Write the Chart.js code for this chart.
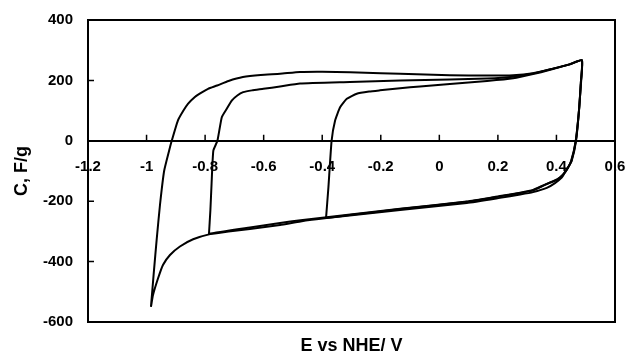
<!DOCTYPE html>
<html>
<head>
<meta charset="utf-8">
<script src="https://cdn.jsdelivr.net/npm/chart.js@4"></script>
<style>
  html, body { margin: 0; padding: 0; background: #fff; }
  canvas { display: block; }
</style>
</head>
<body>
<canvas id="c" width="627" height="357"></canvas>
<script>
// ---- Data ----
const xTickLabels = ['-1.2', '-1', '-0.8', '-0.6', '-0.4', '-0.2', '0', '0.2', '0.4', '0.6'];
const yTickLabels = ['-600', '-400', '-200', '0', '200', '400'];
const xTitle = 'E vs NHE/ V';
const yTitle = 'C, F/g';

// Loop 1: window about -0.99 .. 0.49 V
const loop1E = [-0.985, -0.975, -0.965, -0.954, -0.940, -0.923, -0.914, -0.893, -0.874, -0.858, -0.835, -0.817, -0.790, -0.759, -0.720, -0.671, -0.610, -0.544, -0.476, -0.400, -0.305, -0.200, -0.134, 0.036, 0.163, 0.252, 0.320, 0.388, 0.447, 0.487,
  0.484, 0.478, 0.467, 0.452, 0.440, 0.429, 0.418, 0.395, 0.367, 0.320, 0.276, 0.207, 0.094, -0.134, -0.385, -0.474, -0.544, -0.647, -0.720, -0.783, -0.841, -0.886, -0.920, -0.944, -0.961, -0.978, -0.985];
const loop1C = [-550, -433, -322, -211, -100, -33, 0, 67, 100, 123, 145, 157, 172, 183, 198, 211, 218, 222, 228, 229, 227, 224, 222, 217, 216, 217, 224, 239, 253, 267,
  200, 111, 0, -67, -88, -105, -122, -140, -156, -170, -178, -189, -206, -229, -256, -267, -279, -292, -300, -309, -326, -350, -378, -411, -456, -511, -550];

// Loop 2: window about -0.79 .. 0.49 V
const loop2E = [-0.787, -0.782, -0.778, -0.772, -0.758, -0.743, -0.726, -0.709, -0.690, -0.670, -0.640, -0.601, -0.544, -0.476, -0.305, -0.134, 0.036, 0.163, 0.252, 0.320, 0.388, 0.447, 0.487,
  0.483, 0.476, 0.466, 0.450, 0.436, 0.420, 0.400, 0.380, 0.361, 0.320, 0.276, 0.207, 0.094, -0.134, -0.385, -0.474, -0.544, -0.647, -0.787, -0.787];
const loop2C = [-311, -230, -144, -33, 0, 78, 106, 133, 150, 161, 167, 172, 180, 190, 195, 200, 203, 206, 212, 223, 239, 254, 267,
  180, 90, 0, -67, -95, -115, -130, -138, -145, -163, -172, -183, -201, -225, -253, -263, -272, -287, -308, -311];

// Loop 3: window about -0.39 .. 0.49 V
const loop3E = [-0.387, -0.379, -0.368, -0.356, -0.339, -0.316, -0.282, -0.240, -0.203, -0.134, -0.066, 0.036, 0.163, 0.252, 0.320, 0.388, 0.447, 0.487,
  0.483, 0.477, 0.466, 0.451, 0.437, 0.422, 0.402, 0.380, 0.361, 0.320, 0.276, 0.207, 0.094, -0.134, -0.300, -0.387];
const loop3C = [-256, -156, 0, 67, 111, 139, 156, 163, 167, 174, 180, 188, 198, 207, 221, 238, 254, 267,
  190, 100, 0, -67, -92, -112, -128, -137, -146, -164, -173, -184, -202, -226, -245, -256];

function toPoints(xs, ys) { return xs.map((x, i) => ({ x: x, y: ys[i] })); }

const FONT = "'Liberation Sans', Arial, sans-serif";

const lineStyle = {
  showLine: true, borderColor: '#000', borderWidth: 2, pointRadius: 0,
  fill: false, tension: 0.15, xAxisID: 'x', yAxisID: 'y'
};

// Box around plot area + inward tick marks
const framePlugin = {
  id: 'frame',
  afterDatasetsDraw(chart) {
    const { ctx, chartArea: a, scales } = chart;
    ctx.save();
    ctx.strokeStyle = '#000';
    ctx.lineWidth = 2;
    ctx.strokeRect(a.left, a.top, a.right - a.left, a.bottom - a.top);
    ctx.lineWidth = 1.5;
    const y0 = scales.y.getPixelForValue(0);
    ctx.beginPath();
    scales.x.ticks.forEach(t => {
      const px = scales.x.getPixelForValue(t.value);
      ctx.moveTo(px, y0);
      ctx.lineTo(px, y0 - 6);
    });
    scales.y.ticks.forEach(t => {
      const py = scales.y.getPixelForValue(t.value);
      ctx.moveTo(a.left, py);
      ctx.lineTo(a.left + 6, py);
    });
    ctx.stroke();
    ctx.restore();
  }
};

function noPad(s) { s.paddingLeft = 0; s.paddingRight = 0; s.paddingTop = 0; s.paddingBottom = 0; }

new Chart(document.getElementById('c'), {
  type: 'scatter',
  data: {
    datasets: [
      Object.assign({ label: 'loop1', data: toPoints(loop1E, loop1C) }, lineStyle),
      Object.assign({ label: 'loop2', data: toPoints(loop2E, loop2C) }, lineStyle),
      Object.assign({ label: 'loop3', data: toPoints(loop3E, loop3C) }, lineStyle)
    ]
  },
  options: {
    responsive: false,
    animation: false,
    layout: { padding: { top: 20, right: 12, left: 0, bottom: 0 } },
    plugins: { legend: { display: false }, tooltip: { enabled: false } },
    scales: {
      x: {
        type: 'linear',
        position: { y: 0 },
        min: -1.2, max: 0.6,
        grid: { display: false, drawTicks: false },
        border: { display: true, color: '#000', width: 2 },
        ticks: {
          stepSize: 0.2, autoSkip: false, maxRotation: 0, padding: 17,
          color: '#000', font: { family: FONT, size: 15, weight: 'bold' },
          callback: (v, i) => xTickLabels[i]
        },
        afterFit: s => { s.height = 0; noPad(s); }
      },
      xb: {
        type: 'linear', position: 'bottom',
        grid: { display: false, drawTicks: false },
        border: { display: false },
        ticks: { display: false },
        title: { display: true, text: xTitle, color: '#000', padding: { top: 0, bottom: 0 },
                 font: { family: FONT, size: 18, weight: 'bold' } },
        afterFit: s => { s.height = 35; noPad(s); }
      },
      y: {
        type: 'linear', position: 'left',
        min: -600, max: 400,
        grid: { display: false, drawTicks: false },
        border: { display: false },
        ticks: {
          stepSize: 200, padding: 15,
          color: '#000', font: { family: FONT, size: 15, weight: 'bold' },
          callback: (v, i) => yTickLabels[i]
        },
        title: { display: true, text: yTitle, color: '#000', padding: { top: 11, bottom: 0 },
                 font: { family: FONT, size: 18, weight: 'bold' } },
        afterFit: s => { s.width = 88; noPad(s); }
      }
    }
  },
  plugins: [framePlugin]
});
</script>
</body>
</html>
